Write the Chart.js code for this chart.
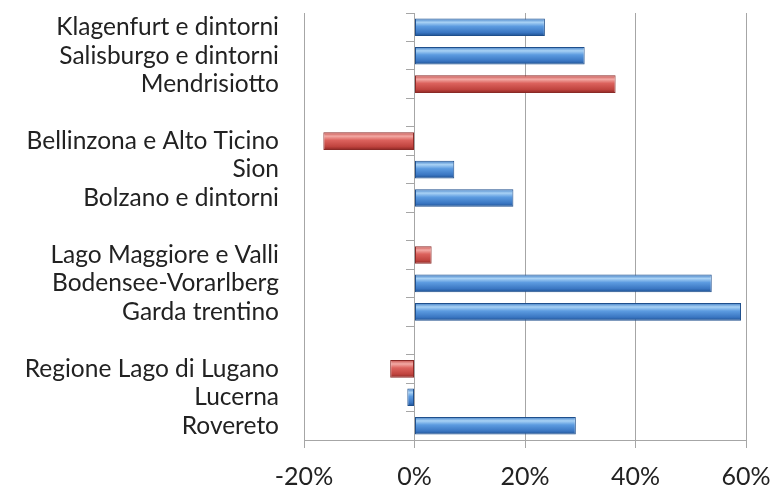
<!DOCTYPE html>
<html>
<head>
<meta charset="utf-8">
<script src="https://cdn.jsdelivr.net/npm/chart.js@4"></script>
<style>
  html, body { margin: 0; padding: 0; background: #fff; }
  #wrap { width: 776px; height: 492px; }
</style>
</head>
<body>
<div id="wrap"><canvas id="chart"></canvas></div>
<script>
// regioni, dall'alto verso il basso ('' = spazio tra i gruppi)
const regioni = [
    'Klagenfurt e dintorni', 'Salisburgo e dintorni', 'Mendrisiotto', '',
    'Bellinzona e Alto Ticino', 'Sion', 'Bolzano e dintorni', '',
    'Lago Maggiore e Valli', 'Bodensee-Vorarlberg', 'Garda trentino', '',
    'Regione Lago di Lugano', 'Lucerna', 'Rovereto'
];
// variazione % - altre regioni (blu)
const altreRegioni = [23.6, 30.8, null, null, null, 7.2, 17.9, null, null, 53.8, 59.1, null, null, -1.3, 29.2];
// variazione % - regioni ticinesi (rosso)
const ticino = [null, null, 36.4, null, -16.5, null, null, null, 3.1, null, null, null, -4.4, null, null];
const tickValori = [-20, 0, 20, 40, 60];

const FONT = 'Lato, "Open Sans", sans-serif';
const GRID = '#a6a6a6';
const BAR_PCT = 0.62;

// gradiente "lucido" stile Excel, calcolato sulla posizione della barra
function glossy(stops, fallback) {
    return function(context) {
        const chart = context.chart;
        const ys = chart.scales && chart.scales.y;
        if (!ys || !chart.chartArea || context.dataIndex === undefined) return fallback;
        const c = ys.getPixelForValue(context.dataIndex);
        const slot = Math.abs(ys.getPixelForValue(1) - ys.getPixelForValue(0));
        const half = slot * BAR_PCT / 2;
        const g = chart.ctx.createLinearGradient(0, c - half, 0, c + half);
        stops.forEach(s => g.addColorStop(s[0], s[1]));
        return g;
    };
}

const blueStops = [[0, '#3f7cc4'], [0.22, '#a9d2f5'], [0.45, '#5c9be0'], [0.8, '#3a76c2'], [1, '#1d4f8f']];
const redStops = [[0, '#c24a46'], [0.22, '#f3aaa5'], [0.45, '#dc625d'], [0.8, '#c0443f'], [1, '#8c2724']];

new Chart(document.getElementById('chart'), {
    type: 'bar',
    data: {
        labels: regioni,
        datasets: [{
            label: 'Altre regioni',
            data: altreRegioni,
            backgroundColor: glossy(blueStops, '#4a86cc'),
            borderColor: '#1f4f8c',
            borderWidth: 1,
            borderSkipped: false,
            barPercentage: BAR_PCT,
            categoryPercentage: 1
        }, {
            label: 'Ticino',
            data: ticino,
            backgroundColor: glossy(redStops, '#cc5550'),
            borderColor: '#8a2a27',
            borderWidth: 1,
            borderSkipped: false,
            barPercentage: BAR_PCT,
            categoryPercentage: 1
        }]
    },
    options: {
        indexAxis: 'y',
        responsive: true,
        maintainAspectRatio: false,
        animation: false,
        layout: {
            padding: { top: 13, right: 0, bottom: 0, left: 0 }
        },
        plugins: {
            legend: { display: false },
            tooltip: { enabled: false }
        },
        scales: {
            x: {
                stacked: true,
                min: -20,
                max: 60,
                afterBuildTicks: (scale) => {
                    scale.ticks = tickValori.map(v => ({ value: v }));
                },
                afterFit: (scale) => {
                    scale.paddingRight = 30;
                    scale.height = 52;
                },
                grid: {
                    color: GRID,
                    lineWidth: 1,
                    tickLength: 8
                },
                border: { color: GRID },
                ticks: {
                    color: '#222',
                    padding: 14,
                    font: { family: FONT, size: 25 },
                    callback: v => v + '%'
                }
            },
            y: {
                stacked: true,
                grid: { display: false, drawTicks: false },
                border: { display: false },
                afterFit: (scale) => {
                    scale.width = 304;
                    scale.paddingTop = 0;
                    scale.paddingBottom = 0;
                },
                ticks: {
                    color: '#222',
                    padding: 25,
                    autoSkip: false,
                    font: { family: FONT, size: 24.5 }
                }
            },
            y2: {
                axis: 'y',
                type: 'category',
                position: { x: 0 },
                offset: true,
                grid: {
                    offset: true,
                    drawOnChartArea: false,
                    color: GRID,
                    tickLength: 8
                },
                border: { color: GRID },
                ticks: { display: false }
            }
        }
    }
});
</script>
</body>
</html>
